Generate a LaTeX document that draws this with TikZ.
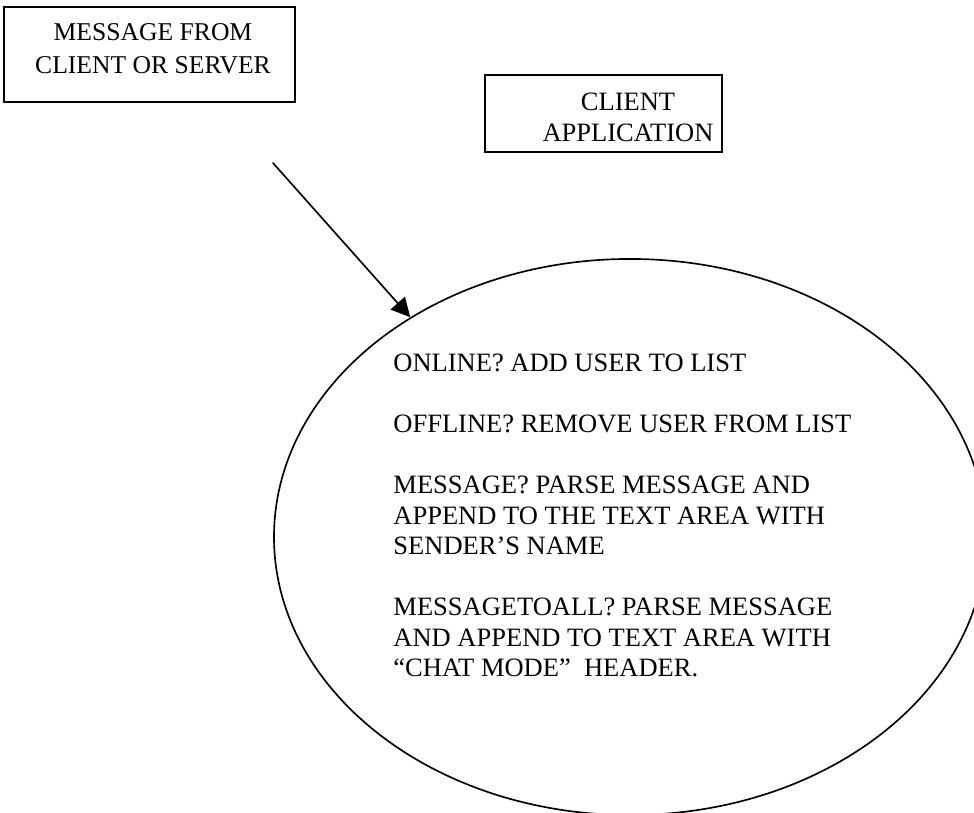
\documentclass[tikz,border=0pt]{standalone}
\usepackage{fontspec}
\setmainfont{Liberation Serif}
\usetikzlibrary{arrows.meta,shapes.geometric}

\begin{document}
\begin{tikzpicture}[x=0.4528pt, y=-0.4528pt, line join=round, line cap=round, >={Triangle[length=8.6pt, width=8.6pt]},
		font=\fontsize{12}{13.8}\selectfont,
		framebox/.style={draw, line width=0.9pt, inner sep=0pt, line cap=butt, line join=miter},
		boxtext/.style={inner sep=0pt, anchor=north, align=center},
		bubble/.style={ellipse, draw, line width=0.75pt, inner sep=0pt}]
	\path[use as bounding box, clip] (0,0) rectangle (974,813);

	\node[framebox, minimum width=131.8pt, minimum height=43pt] (msgbox) at (149.5,54.5) {};
	\node[boxtext, font=\fontsize{11.6}{15.1}\selectfont] (msgtext) at (153,23) {MESSAGE FROM\\CLIENT OR SERVER};

	\node[framebox, minimum width=107.3pt, minimum height=34.9pt] (appbox) at (603.5,113.5) {};
	\node[boxtext, font=\fontsize{12}{13.9}\selectfont] (apptext) at (628,93) {CLIENT\\APPLICATION};

	\node[bubble, minimum width=322.4pt, minimum height=251.8pt] (bubble) at (630,537) {};
	\node[inner sep=0pt, anchor=north west, align=left] (rules) at (393,354) {%
		ONLINE? ADD USER TO LIST\\[13.8pt]
		OFFLINE? REMOVE USER FROM LIST\\[13.8pt]
		MESSAGE? PARSE MESSAGE AND\\
		APPEND TO THE TEXT AREA WITH\\
		SENDER’S NAME\\[13.8pt]
		MESSAGETOALL? PARSE MESSAGE\\
		AND APPEND TO TEXT AREA WITH\\
		“CHAT MODE”\ \ HEADER.};

	\coordinate (tail) at (273,163);
	\draw[->, line width=0.75pt] (tail) -- (bubble.135);
\end{tikzpicture}
\end{document}
